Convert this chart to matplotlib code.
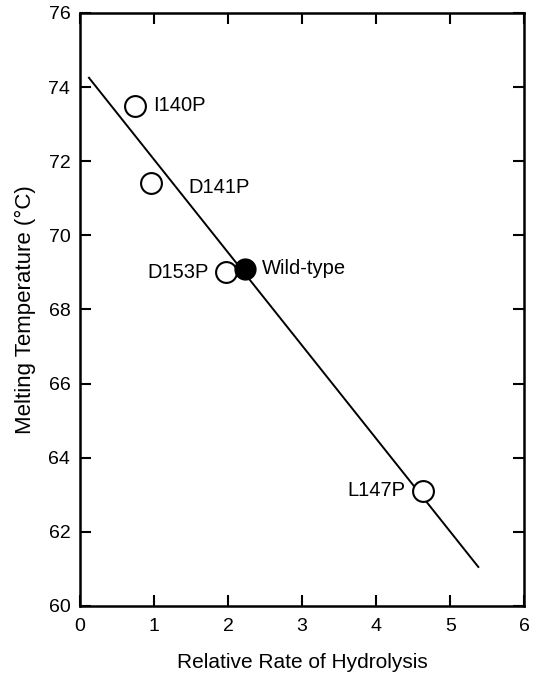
import matplotlib
matplotlib.use("Agg")
import matplotlib.pyplot as plt

plt.rcParams['font.family'] = ['Liberation Sans', 'DejaVu Sans']

# mutants
mutant_names = ["I140P", "D141P", "D153P", "L147P"]
mutant_rate = [0.74, 0.96, 1.97, 4.63]
mutant_tm = [73.5, 71.4, 69.0, 63.1]

# wild type
wt_rate = [2.23]
wt_tm = [69.1]

# regression line end points
fit_x = [0.12, 5.38]
fit_y = [74.25, 61.05]

fig = plt.figure(figsize=(5.41, 6.8), dpi=100)
ax = fig.add_axes([0.148, 0.109, 0.821, 0.872])

ax.plot(fit_x, fit_y, color='black', lw=1.4, zorder=2)
ax.plot(mutant_rate, mutant_tm, 'o', ms=15, mfc='white', mec='black', mew=1.5, zorder=3)
ax.plot(wt_rate, wt_tm, 'o', ms=15, mfc='black', mec='black', zorder=4)

# labels next to points
offsets = {"I140P": (0.25, 0, 'left'), "D141P": (0.50, -0.1, 'left'),
           "D153P": (-0.23, 0, 'right'), "L147P": (-0.23, 0, 'right')}
for name, x, y in zip(mutant_names, mutant_rate, mutant_tm):
    dx, dy, ha = offsets[name]
    ax.text(x + dx, y + dy, name, ha=ha, va='center', fontsize=14.5)
ax.text(wt_rate[0] + 0.23, wt_tm[0], "Wild-type", ha='left', va='center', fontsize=14.5)

ax.set_xlim(0, 6)
ax.set_ylim(60, 76)
ax.set_xticks(range(0, 7))
ax.set_yticks(range(60, 77, 2))
ax.tick_params(direction='in', length=8, width=1.5, top=True, right=True, labelsize=14)
ax.tick_params(axis='x', pad=9)
ax.tick_params(axis='y', pad=7)
for s in ax.spines.values():
    s.set_linewidth(1.8)

ax.set_xlabel("Relative Rate of Hydrolysis", fontsize=15, labelpad=13)
ax.set_ylabel("Melting Temperature (°C)", fontsize=16, labelpad=9)

fig.savefig("out.png", dpi=100)
